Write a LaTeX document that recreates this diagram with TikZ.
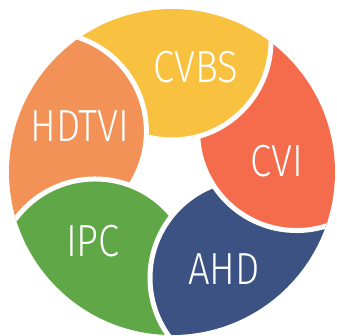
\documentclass[tikz,border=0pt]{standalone}
\usepackage{fontspec}
\setmainfont{Fira Sans}[UprightFont={* Light}, FakeStretch=0.85]
\usetikzlibrary{calc}

\definecolor{cvbsyellow}{HTML}{F8C13F}
\definecolor{hdtviorange}{HTML}{F29257}
\definecolor{ipcgreen}{HTML}{60A847}
\definecolor{ahdblue}{HTML}{3C5283}
\definecolor{cvired}{HTML}{F46C4C}

\tikzset{
  petal/.style={fill=#1, draw=white, line width=5pt},
  petallabel/.style={text=white, inner sep=0pt, font=\fontsize{45}{45}\selectfont}
}

\begin{document}
\begin{tikzpicture}[x=1pt,y=-1pt]
  \useasboundingbox (0,0) rectangle (337,336);
  \coordinate (c) at (172,172);
  \foreach \n/\a in {cvbs/90, hdtvi/162, ipc/234, ahd/306, cvi/18}
    \coordinate (\n) at ($(c)+(\a:131pt)$);

  \begin{scope}
    \clip (c) circle [radius=163pt];
    \foreach \n/\col in {cvbs/cvbsyellow, hdtvi/hdtviorange, ipc/ipcgreen, ahd/ahdblue, cvi/cvired}
      \draw [petal=\col] (\n) circle [radius=99pt];
    % close the ring: CVBS lies over CVI
    \clip (cvi) circle [radius=104pt];
    \draw [petal=cvbsyellow] (cvbs) circle [radius=99pt];
  \end{scope}

  \node [petallabel] (tcvbs)  at (196,67)  {CVBS};
  \node [petallabel] (thdtvi) at (80,126)  {HDTVI};
  \node [petallabel] (tcvi)   at (277,161) {CVI};
  \node [petallabel] (tipc)   at (93,241)  {IPC};
  \node [petallabel] (tahd)   at (224,269) {AHD};
\end{tikzpicture}
\end{document}
